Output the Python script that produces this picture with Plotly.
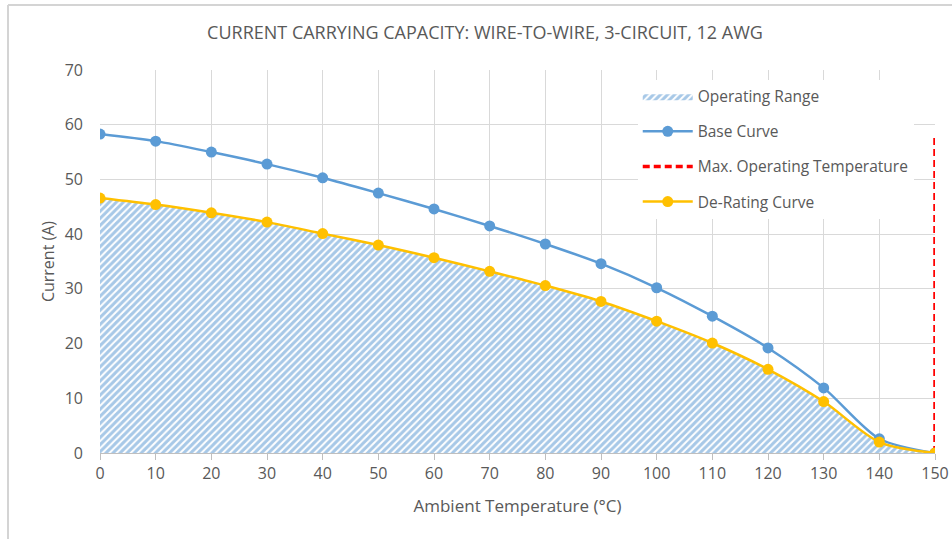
import plotly.graph_objects as go

# Ambient temperature (°C) and current (A)
temperature = [0, 10, 20, 30, 40, 50, 60, 70, 80, 90, 100, 110, 120, 130, 140, 150]
base_curve = [58.3, 57.0, 55.0, 52.8, 50.3, 47.5, 44.6, 41.5, 38.2, 34.6, 30.2, 25.0, 19.2, 11.9, 2.6, 0.0]
derating_curve = [46.6, 45.4, 43.9, 42.2, 40.1, 38.0, 35.7, 33.2, 30.6, 27.7, 24.1, 20.1, 15.3, 9.4, 2.0, 0.0]

max_temp_x = [150, 150]
max_temp_y = [0, 58.3]

BLUE = "#5B9BD5"
GOLD = "#FFC000"
RED = "#FF0000"
GREY = "#595959"
FONT = "Open Sans"

W, H = 952, 539
L, R, T, B = 100, 17, 70, 86
PW, PH = W - L - R, H - T - B

fig = go.Figure()

fig.add_trace(go.Scatter(
    x=temperature, y=derating_curve,
    name="Operating Range",
    mode="lines",
    line=dict(width=0, shape="spline", smoothing=0.8),
    fill="tozeroy",
    fillcolor="rgba(0,0,0,0)",
    fillpattern=dict(shape="/", fgcolor="#4F92D0", bgcolor="white", size=5, solidity=0.6),
    legendgroup="a",
    hoverinfo="skip",
))

fig.add_trace(go.Scatter(
    x=temperature, y=base_curve,
    name="Base Curve",
    mode="lines+markers",
    line=dict(color=BLUE, width=2.5, shape="spline", smoothing=0.8),
    marker=dict(size=11, color=BLUE),
    legendgroup="b",
))

fig.add_trace(go.Scatter(
    x=max_temp_x, y=max_temp_y,
    name="Max. Operating Temperature",
    mode="lines",
    line=dict(color=RED, width=3.5, dash="7px,4px"),
    legendgroup="c",
))

fig.add_trace(go.Scatter(
    x=temperature, y=derating_curve,
    name="De-Rating Curve",
    mode="lines+markers",
    line=dict(color=GOLD, width=2.5, shape="spline", smoothing=0.8),
    marker=dict(size=11, color=GOLD),
    legendgroup="d",
))

frame = dict(color="#D4D4D4", width=2)

fig.update_layout(
    width=W, height=H,
    margin=dict(l=L, r=R, t=T, b=B, autoexpand=False),
    paper_bgcolor="white",
    plot_bgcolor="white",
    font=dict(family=FONT, color=GREY, size=15),
    title=dict(
        text="CURRENT CARRYING CAPACITY: WIRE-TO-WIRE, 3-CIRCUIT, 12 AWG",
        x=485 / W, xanchor="center", y=1 - 33 / H, yanchor="middle",
        font=dict(size=18, color=GREY, family=FONT),
    ),
    xaxis=dict(
        range=[0, 150], dtick=10, tick0=0,
        showgrid=True, gridcolor="#D9D9D9", gridwidth=1,
        showline=True, linecolor="#BFBFBF", linewidth=1,
        ticks="outside", tickcolor="#BFBFBF", ticklen=6,
        zeroline=False, automargin=False,
        title=dict(text="Ambient Temperature (°C)", font=dict(size=17), standoff=16),
        tickfont=dict(size=16),
    ),
    yaxis=dict(
        range=[0, 70], dtick=10,
        showgrid=True, gridcolor="#D9D9D9", gridwidth=1,
        zeroline=False, showline=False, automargin=False,
        title=dict(text="Current (A)", font=dict(size=16), standoff=6),
        tickfont=dict(size=16),
        ticklabelstandoff=16,
    ),
    legend=dict(
        x=0.644, y=0.975, xanchor="left", yanchor="top",
        bgcolor="white", borderwidth=0,
        font=dict(size=15.5, color=GREY),
        itemwidth=50,
        tracegroupgap=12,
    ),
    shapes=[
        # outer chart frame: left and top edges
        dict(type="line", xref="paper", yref="paper",
             x0=(8 - L) / PW, x1=(8 - L) / PW,
             y0=-B / PH, y1=1 + (T - 5) / PH, line=frame, layer="below"),
        dict(type="line", xref="paper", yref="paper",
             x0=(8 - L) / PW, x1=1 + R / PW,
             y0=1 + (T - 5) / PH, y1=1 + (T - 5) / PH, line=frame, layer="below"),
    ],
    showlegend=True,
)

fig.write_html(
    "out.html",
    config={"displayModeBar": False},
    post_script="document.body.style.margin='0';",
)
